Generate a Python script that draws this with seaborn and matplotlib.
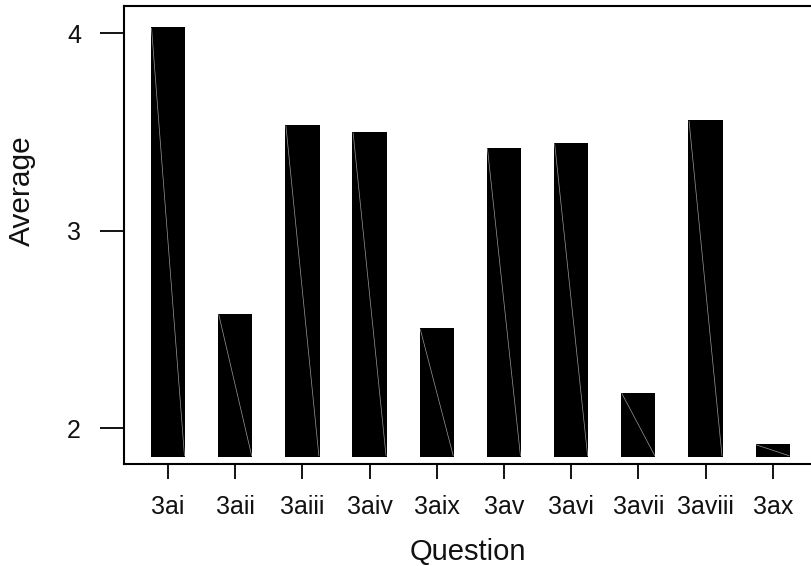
import matplotlib
matplotlib.use('Agg')
import matplotlib.pyplot as plt
import seaborn as sns
import pandas as pd

# data
questions = ['3ai', '3aii', '3aiii', '3aiv', '3aix', '3av', '3avi', '3avii', '3aviii', '3ax']
averages = [4.03, 2.58, 3.535, 3.50, 2.505, 3.42, 3.445, 2.18, 3.56, 1.92]
bar_base = 1.855
y_ticks = [2, 3, 4]

sns.set_theme(style='white')
plt.rcParams['font.family'] = ['Liberation Sans', 'DejaVu Sans']

df = pd.DataFrame({'Question': questions, 'Average': averages})

fig = plt.figure(figsize=(8.11, 5.66), dpi=100)
ax = fig.add_axes([124 / 811, 102 / 566, 1 - 124 / 811, 458 / 566])

sns.barplot(data=df, x='Question', y='Average', color='black', width=0.51,
            saturation=1, edgecolor='none', ax=ax)

# R-style bars start at the bottom of the plotting region, not at zero
for p in ax.patches:
    top = p.get_height()
    p.set_y(bar_base)
    p.set_height(top - bar_base)
    p.set_facecolor('black')
    # faint seam line visible in the original rendering
    x0 = p.get_x() + 0.01
    x1 = p.get_x() + p.get_width() - 0.01
    ax.plot([x0, x1], [top - 0.005, bar_base + 0.005], color='#9a9a9a', lw=0.5, zorder=5)

ax.set_xlim(-0.655, 9.57)
ax.set_ylim(1.818, 4.137)
ax.set_yticks(y_ticks)
ax.set_yticklabels([str(t) for t in y_ticks])

for side in ['left', 'bottom', 'top']:
    ax.spines[side].set_visible(True)
    ax.spines[side].set_color('black')
    ax.spines[side].set_linewidth(1.5)
ax.spines['right'].set_visible(False)

ax.tick_params(axis='both', which='major', direction='out', width=1.3,
               color='black', labelsize=18, labelcolor='#111111', left=True, bottom=True)
ax.tick_params(axis='y', length=17, pad=14)
ax.tick_params(axis='x', length=11, pad=11)

ax.set_xlabel('Question', fontsize=21, color='#111111', labelpad=14)
ax.set_ylabel('Average', fontsize=21.5, color='#111111')
ax.yaxis.set_label_coords(-0.128, 0.596)
ax.grid(False)

fig.savefig('out.png', dpi=100, facecolor='white')
